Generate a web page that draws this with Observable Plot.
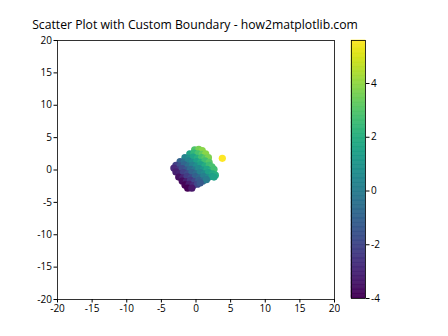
<!DOCTYPE html>
<html><head><meta charset="utf-8">
<script src="https://cdn.jsdelivr.net/npm/d3@7"></script>
<script src="https://cdn.jsdelivr.net/npm/@observablehq/plot@0.6"></script>
<style>
body{margin:0;background:#fff;}
#wrap{position:relative;width:448px;height:336px;font-family:"Open Sans",sans-serif;overflow:hidden;}
#wrap > div.p{position:absolute;top:0;}
#title{position:absolute;left:0;width:390px;top:19px;text-align:center;font-size:12.2px;color:#000;line-height:1;}
</style></head><body>
<div id="wrap">
  <div id="title">Scatter Plot with Custom Boundary - how2matplotlib.com</div>
  <div class="p" id="main" style="left:0"></div>
  <div class="p" id="cbar" style="left:340px"></div>
</div>
<script>
const xs = [
  -0.2, 0.4, 0.9,
  -0.9, -0.3, 0.3, 0.9, 1.4,
  -1.6, -1.0, -0.4, 0.2, 0.8, 1.3, 1.8,
  -2.3, -1.7, -1.1, -0.5, 0.1, 0.7, 1.3, 1.9,
  -2.9, -2.3, -1.7, -1.1, -0.5, 0.1, 0.7, 1.3, 1.9, 2.3,
  -3.2, -2.6, -2.0, -1.4, -0.8, -0.2, 0.4, 1.0, 1.6, 2.2, 2.6,
  -2.9, -2.4, -1.8, -1.2, -0.6, 0.0, 0.6, 1.2, 1.8, 2.4, 2.8,
  -2.5, -1.9, -1.3, -0.7, -0.1, 0.5, 1.1, 1.7, 2.3, 2.6,
  -2.0, -1.4, -0.8, -0.2, 0.4, 1.0, 1.5,
  -1.6, -1.0, -0.4, 0.2, 0.6,
  -1.2, -0.6,
  3.8
];
const ys = [
  3.1, 3.2, 3.0,
  2.5, 2.6, 2.5, 2.4, 2.5,
  1.9, 1.8, 2.0, 1.8, 1.9, 1.8, 1.9,
  1.3, 1.2, 1.4, 1.2, 1.3, 1.2, 1.4, 1.2,
  0.7, 0.6, 0.8, 0.6, 0.7, 0.6, 0.8, 0.6, 0.7, 0.5,
  0.3, 0.0, 0.2, 0.0, 0.1, 0.0, 0.2, 0.0, 0.1, -0.1, 0.1,
  -0.3, -0.6, -0.4, -0.6, -0.4, -0.6, -0.4, -0.6, -0.4, -0.6, -0.8,
  -1.1, -1.2, -1.0, -1.2, -1.0, -1.2, -1.0, -1.2, -1.0, -1.1,
  -1.7, -1.8, -1.6, -1.8, -1.6, -1.7, -1.5,
  -2.3, -2.2, -2.4, -2.2, -2.0,
  -2.8, -2.8,
  1.8
];
const cs = [
  2.9, 3.6, 3.9,
  1.6, 2.3, 2.8, 3.3, 3.9,
  0.3, 0.8, 1.6, 2.0, 2.7, 3.1, 3.7,
  -1.0, -0.5, 0.3, 0.7, 1.4, 1.9, 2.7, 3.1,
  -2.2, -1.7, -0.9, -0.5, 0.2, 0.7, 1.5, 1.9, 2.6, 2.8,
  -2.9, -2.6, -1.8, -1.4, -0.7, -0.2, 0.6, 1.0, 1.7, 2.1, 2.7,
  -3.2, -3.0, -2.2, -1.8, -1.0, -0.6, 0.2, 0.6, 1.4, 1.8, 2.0,
  -3.6, -3.1, -2.3, -1.9, -1.1, -0.7, 0.1, 0.5, 1.3, 1.5,
  -3.7, -3.2, -2.4, -2.0, -1.2, -0.7, 0.0,
  -3.9, -3.2, -2.8, -2.0, -1.4,
  -4.0, -3.4,
  5.6
];
const axisTicks = [-20, -15, -10, -5, 0, 5, 10, 15, 20];
const cbarTicks = [-4, -2, 0, 2, 4];
const limits = [-20, 20];

const pts = xs.map((x, i) => ({x, y: ys[i], c: cs[i]}));
const cDomain = d3.extent(cs);
const fmt = d => String(d);

const main = Plot.plot({
  width: 340, height: 336,
  marginLeft: 57, marginRight: 6, marginTop: 40, marginBottom: 37,
  style: {fontFamily: "Open Sans, sans-serif", fontSize: "10px", color: "#000", background: "transparent"},
  x: {domain: limits, ticks: axisTicks, tickFormat: fmt, tickSize: 3.5, tickPadding: 2, label: null},
  y: {domain: limits, ticks: axisTicks, tickFormat: fmt, tickSize: 3.5, tickPadding: 2, label: null},
  color: {type: "linear", scheme: "viridis", domain: cDomain},
  marks: [
    Plot.dot(pts, {x: "x", y: "y", fill: "c", r: 3.6, stroke: null}),
    Plot.frame({stroke: "#000", strokeWidth: 0.8})
  ]
});
document.getElementById("main").appendChild(main);

const N = 200;
const bands = d3.range(N).map(i => {
  const a = cDomain[0] + (cDomain[1] - cDomain[0]) * i / N;
  const b = cDomain[0] + (cDomain[1] - cDomain[0]) * (i + 1) / N;
  return {a, b, m: (a + b) / 2};
});
const cbar = Plot.plot({
  width: 108, height: 336,
  marginLeft: 11, marginRight: 83, marginTop: 40, marginBottom: 38,
  style: {fontFamily: "Open Sans, sans-serif", fontSize: "10px", color: "#000", background: "transparent"},
  x: {domain: [0, 1], axis: null},
  y: {domain: cDomain, ticks: cbarTicks, tickFormat: fmt, axis: "right", tickSize: 3.5, tickPadding: 2, label: null},
  color: {type: "linear", scheme: "viridis", domain: cDomain},
  marks: [
    Plot.rect(bands, {x1: 0, x2: 1, y1: "a", y2: "b", fill: "m", stroke: "m", strokeWidth: 0.6}),
    Plot.frame({stroke: "#000", strokeWidth: 0.8})
  ]
});
document.getElementById("cbar").appendChild(cbar);
</script>
</body></html>
